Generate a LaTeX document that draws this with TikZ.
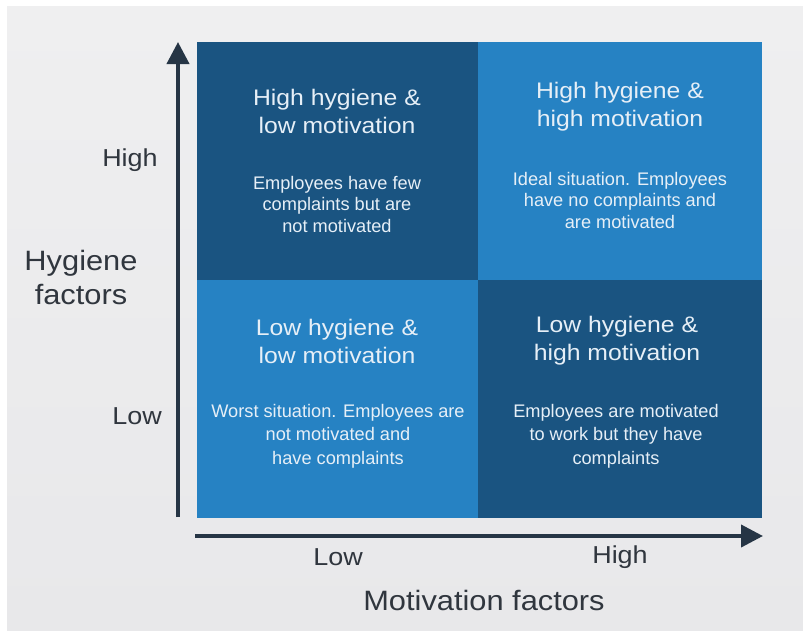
\documentclass[tikz,border=0pt]{standalone}
\usepackage{fontspec}
\setmainfont{Liberation Sans}[FakeStretch=1.1]
\newfontfamily\descfont{Liberation Sans}
\usetikzlibrary{arrows.meta}

\definecolor{quaddark}{HTML}{1A5481}
\definecolor{quadlight}{HTML}{2682C3}
\definecolor{quadtext}{HTML}{E6EFF7}
\definecolor{axisgray}{HTML}{263545}
\definecolor{labelgray}{HTML}{30363E}
\definecolor{paneltop}{HTML}{EFEFF0}
\definecolor{panelbottom}{HTML}{E8E8EA}

\tikzstyle{quad} = [anchor=north west, inner sep=0pt, minimum height=238pt]
\tikzstyle{title} = [align=center, text=quadtext, font=\fontsize{22.5}{28}\selectfont]
\tikzstyle{desc} = [align=center, text=quadtext, font=\descfont\fontsize{18.2}{21.5}\selectfont]
\tikzstyle{desclow} = [desc, font=\descfont\fontsize{18.2}{23.5}\selectfont]
\tikzstyle{tick} = [text=labelgray, font=\fontsize{24.5}{28}\selectfont]
\tikzstyle{axislabel} = [align=center, text=labelgray, font=\fontsize{28}{34}\selectfont]
\tikzstyle{axis} = [draw=axisgray, line width=4pt, -{Triangle[length=22pt,width=22pt]}]

\begin{document}
\begin{tikzpicture}[x=1pt, y=-1pt]
      \useasboundingbox (0,0) rectangle (803,630);
      \fill[white] (0,0) rectangle (803,630);
      \shade[top color=paneltop, bottom color=panelbottom] (7,6) rectangle (803,630);

      % the four quadrants
      \node[quad, fill=quaddark, minimum width=281pt] (hl) at (197,42) {};
      \node[quad, fill=quadlight, minimum width=284pt] (hh) at (478,42) {};
      \node[quad, fill=quadlight, minimum width=281pt] (ll) at (197,280) {};
      \node[quad, fill=quaddark, minimum width=284pt] (lh) at (478,280) {};

      \node[title] (hl-t) at (337,111) {High hygiene \&\\low motivation};
      \node[desc] (hl-d) at (337,204) {Employees have few\\complaints but are\\not motivated};
      \node[title] (hh-t) at (620,107) {High hygiene \&\\high motivation};
      \node[desc] (hh-d) at (620,200) {Ideal situation. Employees\\have no complaints and\\are motivated};
      \node[title] (ll-t) at (337,341) {Low hygiene \&\\low motivation};
      \node[desclow] (ll-d) at (338,436) {Worst situation. Employees are\\not motivated and\\have complaints};
      \node[title] (lh-t) at (617,341) {Low hygiene \&\\high motivation};
      \node[desclow] (lh-d) at (616,436) {Employees are motivated\\to work but they have\\complaints};

      % axes
      \coordinate (yfoot) at (178,517);
      \coordinate (ytip) at (178,42);
      \coordinate (xfoot) at (195,536);
      \coordinate (xtip) at (763,536);
      \draw[axis] (yfoot) -- (ytip);
      \draw[axis] (xfoot) -- (xtip);

      \node[tick] (y-high) at (130,160) {High};
      \node[tick] (y-low) at (137,416) {Low};
      \node[axislabel] (y-label) at (81,277) {Hygiene\\factors};
      \node[tick] (x-low) at (338,557) {Low};
      \node[tick] (x-high) at (620,557) {High};
      \node[axislabel] (x-label) at (484,600) {Motivation factors};
    \end{tikzpicture}
\end{document}
